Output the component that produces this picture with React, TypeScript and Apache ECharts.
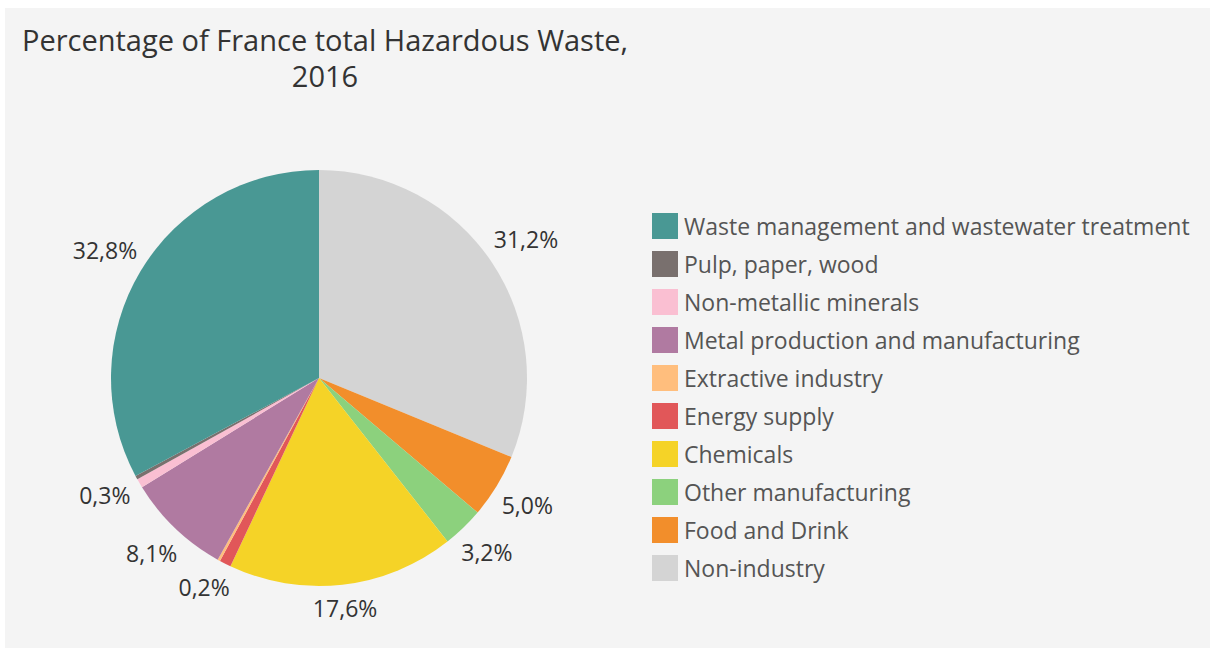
import React, { useEffect, useRef } from "react";
import * as echarts from "echarts";

// Pie data, clockwise from 12 o'clock
const categories = [
  "Non-industry",
  "Food and Drink",
  "Other manufacturing",
  "Chemicals",
  "Energy supply",
  "Extractive industry",
  "Metal production and manufacturing",
  "Non-metallic minerals",
  "Pulp, paper, wood",
  "Waste management and wastewater treatment",
];
const values = [31.2, 5.0, 3.2, 17.6, 0.9, 0.2, 8.1, 0.7, 0.3, 32.8];
const colors = [
  "#d4d4d4",
  "#f28e2b",
  "#8cd17d",
  "#f5d327",
  "#e15759",
  "#ffbe7d",
  "#b07aa1",
  "#fabfd2",
  "#79706e",
  "#499894",
];
// which slices carry a visible percentage label
const showLabel = [true, true, true, true, false, true, true, false, true, true];
// legend order (top to bottom)
const legendOrder = [...categories].reverse();

const titleText = "Percentage of France total Hazardous Waste,\n2016";

const CENTER: [number, number] = [314, 370];
const RADIUS = 208;
const LABEL_GAP = 8;

export default function App() {
  const ref = useRef<HTMLDivElement>(null);
  useEffect(() => {
    document.body.style.margin = "0";
    const chart = echarts.init(ref.current!, undefined, { renderer: "svg" });
    const total = values.reduce((a, b) => a + b, 0);
    const midAngles: number[] = [];
    let cum = 0;
    values.forEach((v) => {
      midAngles.push(((cum + v / 2) / total) * Math.PI * 2);
      cum += v;
    });
    chart.setOption({
      animation: false,
      backgroundColor: "#f4f4f4",
      title: {
        text: titleText,
        left: 315,
        top: 8,
        textAlign: "center",
        textStyle: {
          fontFamily: "Open Sans",
          fontSize: 29,
          fontWeight: "normal",
          color: "#333",
          lineHeight: 36,
        },
      },
      legend: {
        orient: "vertical",
        left: 642,
        top: 200,
        data: legendOrder,
        icon: "rect",
        itemWidth: 26,
        itemHeight: 26,
        itemGap: 12,
        selectedMode: false,
        textStyle: {
          fontFamily: "Open Sans",
          fontSize: 23,
          lineHeight: 26,
          color: "#555",
          padding: [0, 0, 0, 1],
        },
      },
      series: [
        {
          type: "pie",
          center: CENTER,
          radius: RADIUS,
          startAngle: 90,
          clockwise: true,
          avoidLabelOverlap: false,
          data: categories.map((name, i) => ({
            name,
            value: values[i],
            itemStyle: { color: colors[i] },
            label: { show: showLabel[i] },
          })),
          label: {
            position: "outside",
            fontFamily: "Open Sans",
            fontSize: 23,
            color: "#333",
            formatter: (p: any) => p.value.toFixed(1).replace(".", ",") + "%",
          },
          labelLine: { show: false, length: 8, length2: 2 },
          labelLayout: (params: any) => {
            const a = midAngles[params.dataIndex];
            const s = Math.sin(a);
            const c = Math.cos(a);
            const w = params.labelRect.width;
            const h = params.labelRect.height;
            const ext = Math.abs((w / 2) * s) + Math.abs((h / 2) * c);
            const d = RADIUS + LABEL_GAP + ext;
            return {
              x: CENTER[0] + d * s,
              y: CENTER[1] - d * c,
              align: "center",
              verticalAlign: "middle",
            };
          },
          emphasis: { disabled: true },
        },
      ],
    });
    return () => chart.dispose();
  }, []);
  return (
    <div
      style={{
        position: "absolute",
        left: 5,
        top: 8,
        width: 1205,
        height: 640,
      }}
    >
      <div ref={ref} style={{ width: 1205, height: 640 }} />
    </div>
  );
}
